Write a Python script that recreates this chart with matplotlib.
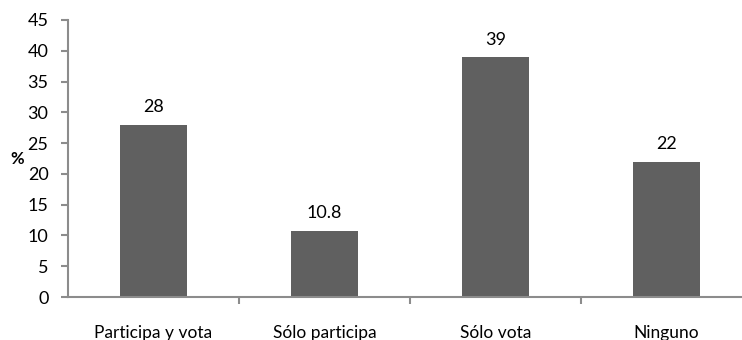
import matplotlib.pyplot as plt
import numpy as np

categorias = ['Participa y vota', 'Sólo participa', 'Sólo vota', 'Ninguno']
valores = [28, 10.8, 39, 22]
etiquetas = ['28', '10.8', '39', '22']

plt.rcParams['font.family'] = ['Lato', 'DejaVu Sans']

fig = plt.figure(figsize=(7.42, 3.4), dpi=100)
ax = fig.add_axes([68 / 742, 1 - 297 / 340, 684 / 742, 277 / 340])

x = np.arange(len(categorias))
ax.bar(x, valores, width=0.39, color='#606060')
for xi, v, t in zip(x, valores, etiquetas):
    ax.text(xi, v + 2.0, t, ha='center', va='baseline', fontsize=13)

ax.set_xlim(-0.5, len(categorias) - 0.5)
ax.set_ylim(0, 45)
ax.set_yticks(range(0, 46, 5))
ax.set_xticks(x)
ax.set_xticklabels(categorias, fontsize=12.5)
ax.tick_params(axis='x', length=0, pad=20)
ax.set_xticks(np.arange(0.5, len(categorias) - 0.5, 1), minor=True)
ax.tick_params(axis='x', which='minor', length=5, width=1.5, color='#8c8c8c')
ax.tick_params(axis='y', length=5, width=1.5, color='#8c8c8c', labelsize=13, pad=9)

for s in ['top', 'right']:
    ax.spines[s].set_visible(False)
for s in ['left', 'bottom']:
    ax.spines[s].set_color('#8c8c8c')
    ax.spines[s].set_linewidth(1.5)

fig.text(17 / 742, 1 - 159 / 340, '%', ha='center', va='center', fontsize=12, fontweight='bold')

fig.savefig('out.png', dpi=100)
